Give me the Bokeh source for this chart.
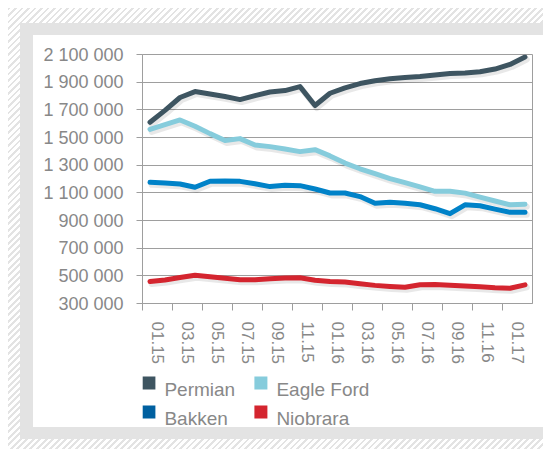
from bokeh.plotting import figure
from bokeh.layouts import column
from bokeh.models import ColumnDataSource, FixedTicker, Range1d
from bokeh.core.properties import value
from bokeh.transform import dodge
from bokeh.embed import file_html
from bokeh.resources import INLINE

months = ["01.15", "02.15", "03.15", "04.15", "05.15", "06.15", "07.15", "08.15",
          "09.15", "10.15", "11.15", "12.15", "01.16", "02.16", "03.16", "04.16",
          "05.16", "06.16", "07.16", "08.16", "09.16", "10.16", "11.16", "12.16",
          "01.17", "02.17"]
permian = [1610000, 1696000, 1789000, 1832000, 1814000, 1796000, 1774000, 1803000,
           1829000, 1839000, 1868000, 1731000, 1820000, 1859000, 1890000, 1910000,
           1924000, 1933000, 1941000, 1952000, 1962000, 1967000, 1975000, 1995000,
           2028000, 2082000]
eagle_ford = [1559000, 1593000, 1627000, 1581000, 1528000, 1478000, 1492000, 1446000,
              1434000, 1417000, 1398000, 1412000, 1367000, 1315000, 1274000, 1238000,
              1203000, 1174000, 1143000, 1111000, 1111000, 1098000, 1069000, 1041000,
              1014000, 1018000]
bakken = [1176000, 1171000, 1164000, 1140000, 1184000, 1186000, 1183000, 1166000,
          1145000, 1155000, 1152000, 1128000, 1099000, 1099000, 1073000, 1024000,
          1032000, 1025000, 1014000, 985000, 949000, 1013000, 1007000, 982000,
          959000, 959000]
niobrara = [459000, 470000, 488000, 504000, 493000, 482000, 471000, 471000,
            479000, 484000, 486000, 468000, 459000, 455000, 442000, 431000,
            423000, 417000, 435000, 437000, 432000, 427000, 421000, 414000,
            410000, 435000]

series_names = ["Permian", "Eagle Ford", "Bakken", "Niobrara"]
series_colors = ["#3e5561", "#86ccdc", "#0082c8", "#d4252f"]
legend_colors = ["#3e5561", "#86ccdc", "#0060a0", "#d4252f"]

y_ticks = [300000, 500000, 700000, 900000, 1100000, 1300000, 1500000, 1700000,
           1900000, 2100000]
y_tick_labels = ["300 000", "500 000", "700 000", "900 000", "1 100 000", "1 300 000",
                 "1 500 000", "1 700 000", "1 900 000", "2 100 000"]
x_tick_labels = months[::2]

TEXT = "#888888"
GRID = "#9e9e9e"
FONT = "Liberation Sans"

W, H = 543, 449
MAIN_H = 375
FRAME_L, FRAME_R = 142, 532

src = ColumnDataSource(dict(
    x=[i + 0.5 for i in range(len(months))],
    Permian=permian, EagleFord=eagle_ford, Bakken=bakken, Niobrara=niobrara))
fields = ["Permian", "EagleFord", "Bakken", "Niobrara"]

frame_css = ("linear-gradient(#ffffff,#ffffff) 33px 35px / 510px 392px no-repeat, "
             "linear-gradient(#e3e3e3,#e3e3e3) 20px 23px / 523px 416px no-repeat, "
             "repeating-linear-gradient(135deg, #e3e3e3 0px, #e3e3e3 2px, "
             "#ffffff 2px, #ffffff 4.6px) 8px 8px / 535px 441px no-repeat, #ffffff")

p = figure(width=W, height=MAIN_H, output_backend="svg", toolbar_location=None,
           x_range=Range1d(0, len(months)), y_range=Range1d(y_ticks[0], y_ticks[-1]),
           min_border_left=FRAME_L, min_border_right=W - FRAME_R, min_border_top=54,
           min_border_bottom=MAIN_H - 54 - 249)
p.border_fill_color = None
p.border_fill_alpha = 0
p.background_fill_color = "white"
p.outline_line_color = GRID

# axes
p.yaxis.ticker = FixedTicker(ticks=y_ticks, minor_ticks=[])
p.yaxis.major_label_overrides = dict(zip(y_ticks, y_tick_labels))
p.yaxis.major_tick_out = 6
p.yaxis.major_tick_in = 0
p.yaxis.major_label_standoff = 13
p.yaxis.axis_line_color = GRID
p.yaxis.major_tick_line_color = GRID
p.yaxis.major_label_text_font_size = "18px"

label_pos = [2 * i + 1 for i in range(len(x_tick_labels))]
tick_pos = [2 * i for i in range(len(x_tick_labels))]
p.xaxis.ticker = FixedTicker(ticks=label_pos, minor_ticks=tick_pos)
p.xaxis.major_label_overrides = dict(zip(label_pos, x_tick_labels))
p.xaxis.major_label_orientation = "vertical"
p.xaxis.major_tick_out = 0
p.xaxis.major_tick_in = 0
p.xaxis.minor_tick_out = 7
p.xaxis.minor_tick_in = 0
p.xaxis.minor_tick_line_color = GRID
p.xaxis.axis_line_color = GRID
p.xaxis.major_label_standoff = 11
p.xaxis.major_label_text_font_size = "17px"

for ax in (p.xaxis, p.yaxis):
    ax.major_label_text_font = FONT
    ax.major_label_text_color = TEXT

p.xgrid.grid_line_color = None
p.ygrid.ticker = FixedTicker(ticks=y_ticks, minor_ticks=[])
p.ygrid.grid_line_color = GRID

# shadows then lines
for f in fields:
    p.line(x=dodge("x", 0.12), y=dodge(f, -18000), source=src, line_width=6,
           line_color="black", line_alpha=0.09, line_join="round", line_cap="round")
for f, c in zip(fields, series_colors):
    p.line(x="x", y=f, source=src, line_width=5, line_color=c,
           line_join="round", line_cap="round")

# legend strip (page-pixel coordinates, y downward); its frame aligns with the
# chart frame above in the column layout
leg = figure(width=W, height=H - MAIN_H, output_backend="svg", toolbar_location=None,
             x_range=Range1d(FRAME_L, FRAME_R), y_range=Range1d(H, MAIN_H),
             x_axis_location=None, y_axis_location=None,
             min_border_left=FRAME_L, min_border_right=W - FRAME_R,
             min_border_top=0, min_border_bottom=0)
leg.border_fill_color = None
leg.border_fill_alpha = 0
leg.background_fill_color = None
leg.background_fill_alpha = 0
leg.outline_line_color = None
leg.grid.grid_line_color = None

sw_x = [148.4, 260.4, 148.4, 260.4]
row_mid = [382.4, 382.4, 411.4, 411.4]
row_base = [389.0, 389.0, 418.0, 418.0]
leg.scatter(x=sw_x, y=row_mid, marker="square", size=13, fill_color=legend_colors,
            line_color=None)
leg.text(x=[v + 15.5 for v in sw_x], y=row_base, text=series_names,
         text_font=value(FONT), text_font_size=value("19px"), text_color=TEXT,
         text_baseline="alphabetic", text_align="left")

page = column(p, leg, spacing=0, styles={"background": frame_css})

open("out.html", "w").write(file_html(page, INLINE))
